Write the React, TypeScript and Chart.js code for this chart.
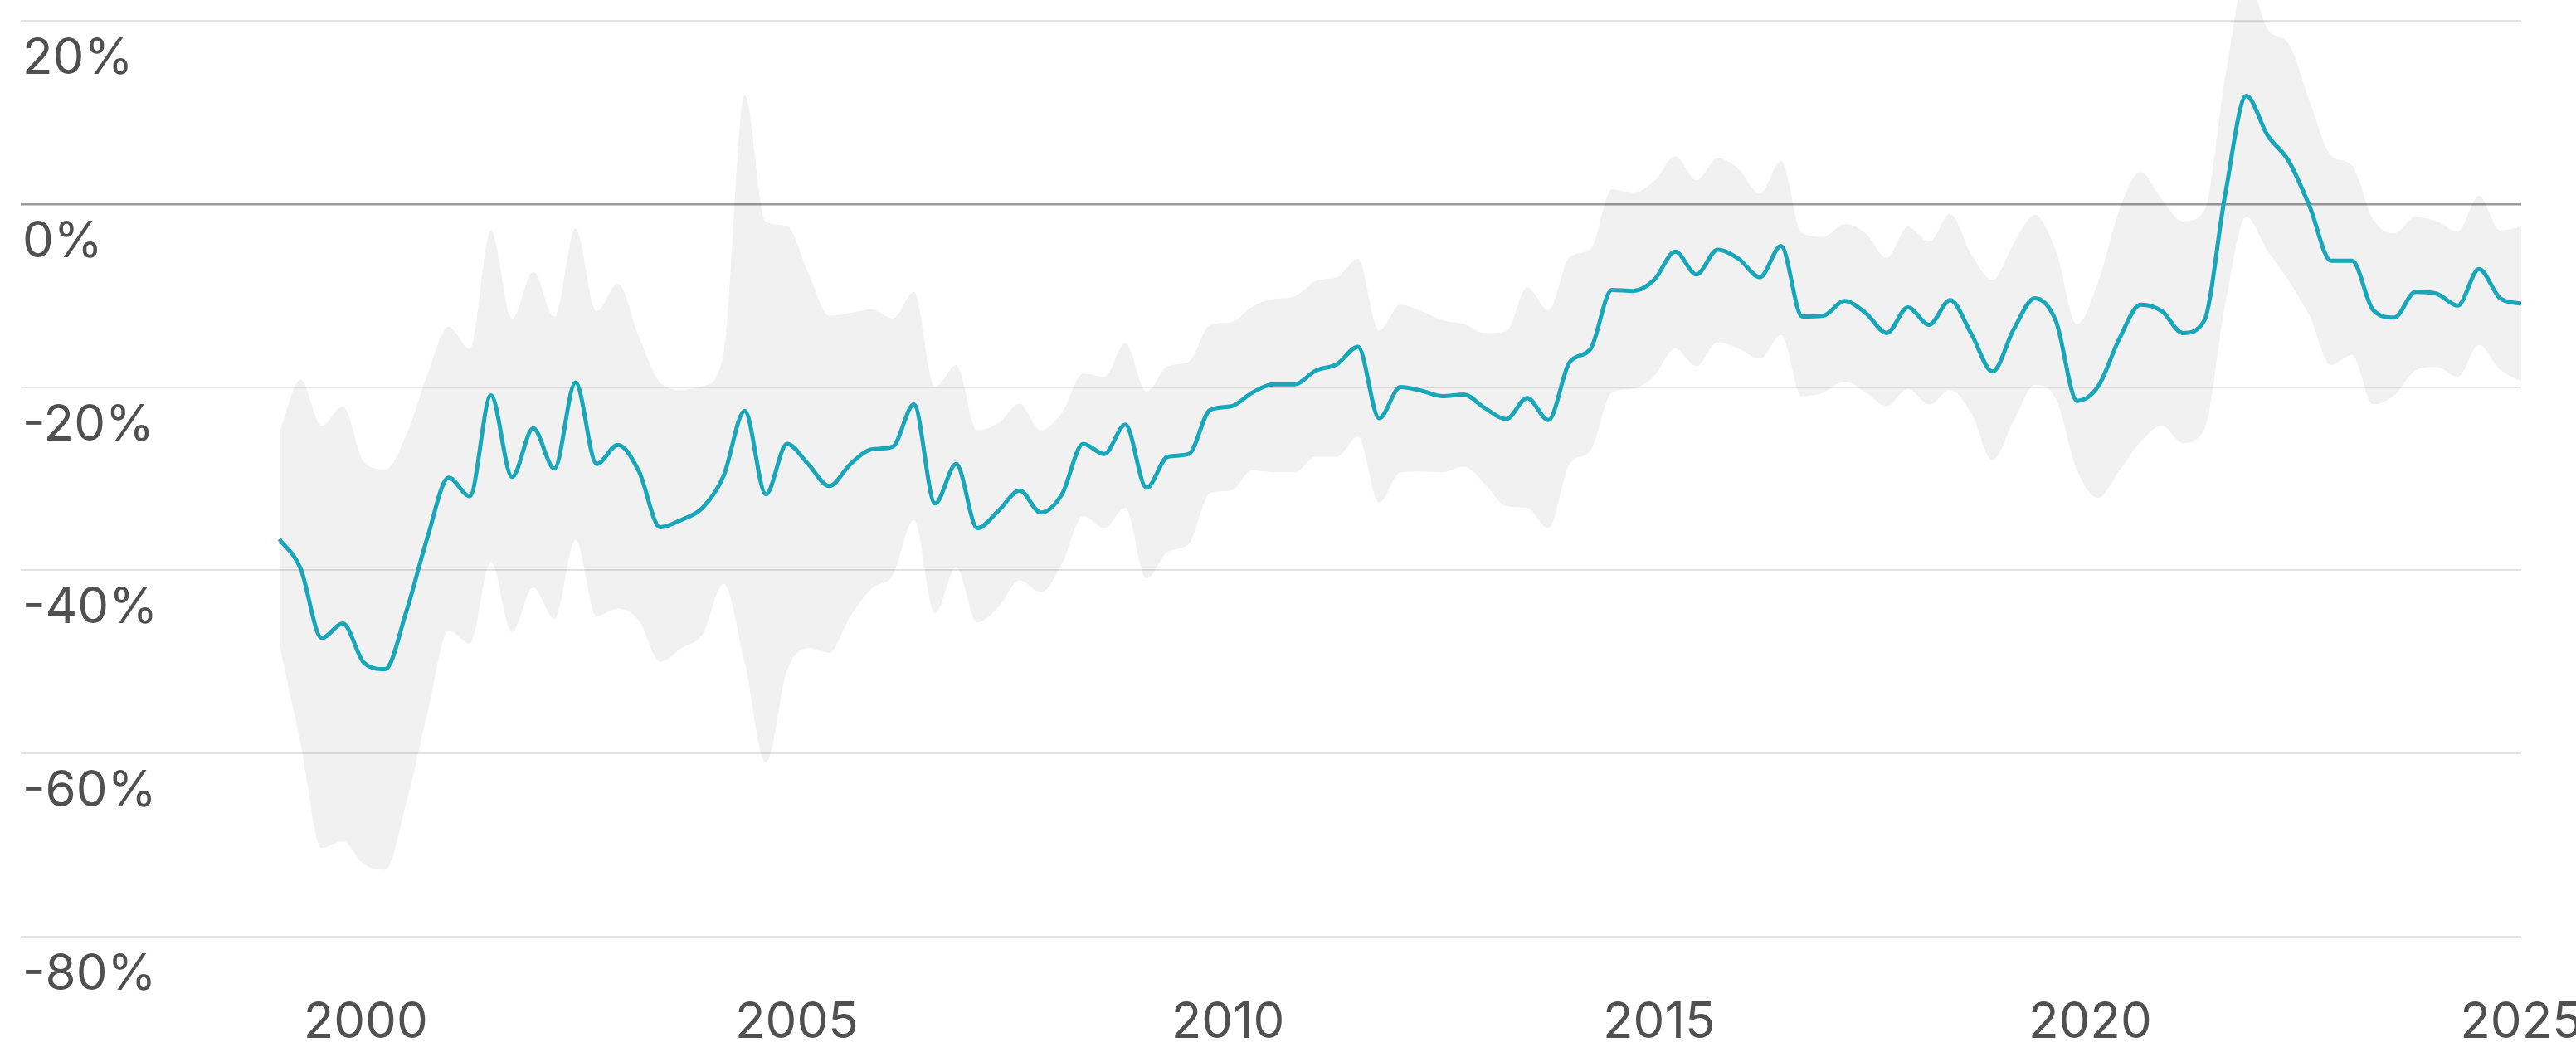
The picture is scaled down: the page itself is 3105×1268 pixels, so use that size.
import { useEffect, useRef } from "react";
import { Chart, registerables } from "chart.js";

Chart.register(...registerables);

// Evenly spaced observations from the start year to the end year
const START_YEAR = 1999;
const END_YEAR = 2025;

// Central estimate (%)
const MID = [
  -36.6, -39.8, -47.4, -45.8, -50.1, -50.8, -44.5, -36.4, -29.9, -31.9,
  -20.9, -29.8, -24.5, -28.9, -19.5, -28.4, -26.3, -29.2, -35.3, -34.5,
  -33.2, -29.7, -22.6, -31.7, -26.2, -28.4, -30.8, -28.4, -26.8, -26.5,
  -21.9, -32.7, -28.4, -35.4, -33.5, -31.3, -33.7, -31.7, -26.2, -27.3,
  -24.1, -31.0, -27.6, -27.3, -22.5, -22.1, -20.6, -19.7, -19.7, -18.2,
  -17.5, -15.6, -23.4, -20.0, -20.4, -21.0, -20.8, -22.3, -23.5, -21.2,
  -23.6, -17.3, -15.8, -9.4, -9.5, -8.3, -5.2, -7.7, -5.0, -6.0,
  -8.0, -4.6, -12.3, -12.2, -10.6, -11.9, -14.1, -11.3, -13.2, -10.5,
  -14.2, -18.3, -13.7, -10.3, -12.8, -21.5, -19.9, -14.7, -11.0, -11.7,
  -14.1, -12.8, 1.0, 11.8, 7.5, 4.7, -0.3, -6.2, -6.2, -11.6,
  -12.4, -9.6, -9.8, -11.1, -7.1, -10.3, -10.9,
];

// Upper bound of the range (%)
const UPPER = [
  -24.9, -19.2, -24.2, -22.1, -28.2, -29.0, -25.2, -18.6, -13.4, -15.8,
  -2.9, -12.5, -7.4, -12.3, -2.7, -11.7, -8.7, -14.5, -19.5, -20.3,
  -19.9, -16.5, 11.9, -1.9, -2.4, -7.5, -12.2, -11.9, -11.5, -12.5,
  -9.6, -20.0, -17.6, -24.7, -23.9, -21.8, -24.7, -22.8, -18.5, -18.9,
  -15.2, -20.5, -17.7, -17.2, -13.2, -12.9, -11.2, -10.4, -10.1, -8.4,
  -8.0, -6.0, -13.8, -11.0, -11.7, -12.7, -13.1, -14.1, -13.9, -9.1,
  -11.6, -5.8, -4.9, 1.6, 1.2, 2.5, 5.2, 2.6, 5.0, 3.8,
  1.1, 4.7, -3.2, -3.6, -2.2, -3.2, -5.9, -2.5, -4.1, -1.1,
  -5.5, -8.3, -4.3, -1.2, -5.1, -13.1, -8.5, -0.6, 3.5, 0.5,
  -1.9, -0.8, 13.8, 25.0, 19.1, 17.5, 11.2, 5.3, 4.2, -1.7,
  -3.2, -1.4, -1.9, -3.0, 0.9, -2.9, -2.5,
];

// Lower bound of the range (%)
const LOWER = [
  -48.2, -58.9, -70.3, -69.6, -72.1, -72.7, -65.4, -55.6, -46.6, -48.0,
  -39.1, -46.7, -41.9, -45.3, -36.7, -45.0, -44.2, -45.5, -50.0, -48.5,
  -47.0, -41.5, -50.0, -61.0, -51.0, -48.5, -49.0, -45.0, -42.0, -40.5,
  -34.5, -44.7, -39.7, -45.7, -44.0, -41.1, -42.4, -39.3, -34.1, -35.4,
  -33.2, -40.9, -38.0, -37.1, -31.6, -31.3, -29.1, -29.3, -29.3, -27.6,
  -27.6, -25.4, -32.6, -29.3, -29.2, -29.3, -28.7, -30.6, -33.0, -33.2,
  -35.4, -28.4, -26.9, -20.6, -20.2, -18.8, -15.8, -17.7, -15.1, -15.8,
  -16.9, -14.3, -21.0, -20.6, -19.4, -20.6, -22.1, -20.2, -21.9, -20.3,
  -22.9, -28.0, -23.7, -19.8, -21.3, -29.1, -32.1, -29.1, -26.0, -24.2,
  -26.1, -24.7, -11.0, -1.4, -5.1, -8.4, -12.3, -17.6, -16.5, -21.9,
  -20.9, -18.2, -17.8, -18.9, -15.4, -18.1, -19.4,
];

const X_TICKS = [2000, 2005, 2010, 2015, 2020, 2025];
const Y_TICKS = [-80, -60, -40, -20, 0, 20];
const X_MIN = 1996;
const X_MAX = 2025;
const Y_MIN = -80;
const Y_MAX = 22.26;

const LINE_COLOR = "#19a6b8";
const BAND_COLOR = "rgba(0,0,0,0.055)";
const TEXT_COLOR = "#505050";
const FONT = { family: "Inter, 'Liberation Sans', Arial, sans-serif", size: 60 };

export default function App() {
  const ref = useRef<HTMLCanvasElement>(null);

  useEffect(() => {
    const n = MID.length;
    const step = (END_YEAR - START_YEAR) / (n - 1);
    const xs = MID.map((_, i) => START_YEAR + i * step);
    const pts = (arr: number[]) => arr.map((v, i) => ({ x: xs[i], y: v }));

    const chart = new Chart(ref.current as HTMLCanvasElement, {
      type: "line",
      data: {
        datasets: [
          {
            data: pts(MID),
            borderColor: LINE_COLOR,
            borderWidth: 5,
            pointRadius: 0,
            cubicInterpolationMode: "monotone",
            fill: false,
          },
          {
            data: pts(UPPER),
            borderColor: "rgba(0,0,0,0)",
            borderWidth: 0,
            backgroundColor: BAND_COLOR,
            pointRadius: 0,
            cubicInterpolationMode: "monotone",
            fill: "+1",
          },
          {
            data: pts(LOWER),
            borderColor: "rgba(0,0,0,0)",
            borderWidth: 0,
            pointRadius: 0,
            cubicInterpolationMode: "monotone",
            fill: false,
          },
        ],
      },
      options: {
        responsive: false,
        animation: false,
        events: [],
        layout: { padding: { left: 25, right: 66, top: 0, bottom: 0 } },
        plugins: {
          legend: { display: false },
          tooltip: { enabled: false },
        },
        scales: {
          x: {
            type: "linear",
            min: X_MIN,
            max: X_MAX,
            grid: { display: false, drawTicks: false },
            border: { display: false },
            afterBuildTicks: (s: any) => {
              s.ticks = X_TICKS.map((v) => ({ value: v }));
            },
            afterFit: (s: any) => {
              s.height = 139;
              s.paddingLeft = 0;
              s.paddingRight = 0;
            },
            ticks: {
              autoSkip: false,
              maxRotation: 0,
              padding: 68,
              color: TEXT_COLOR,
              font: FONT,
              callback: (v: any) => String(v),
            },
          },
          y: {
            type: "linear",
            min: Y_MIN,
            max: Y_MAX,
            border: { display: false },
            grid: {
              drawTicks: false,
              color: (c: any) => (c.tick && c.tick.value === 0 ? "#9c9c9c" : "#e2e2e2"),
              lineWidth: (c: any) => (c.tick && c.tick.value === 0 ? 2.5 : 2),
            },
            afterBuildTicks: (s: any) => {
              s.ticks = Y_TICKS.map((v) => ({ value: v }));
            },
            afterFit: (s: any) => {
              s.width = 0;
              s.paddingTop = 0;
              s.paddingBottom = 0;
            },
            ticks: {
              mirror: true,
              padding: 2,
              labelOffset: 46,
              color: TEXT_COLOR,
              font: FONT,
              callback: (v: any) => `${v}%`,
            },
          },
        },
      },
    } as any);

    return () => chart.destroy();
  }, []);

  return (
    <div style={{ position: "absolute", left: 0, top: 0, width: 3105, height: 1268 }}>
      <canvas
        ref={ref}
        width={3105}
        height={1268}
        style={{ display: "block", width: 3105, height: 1268 }}
      />
    </div>
  );
}
